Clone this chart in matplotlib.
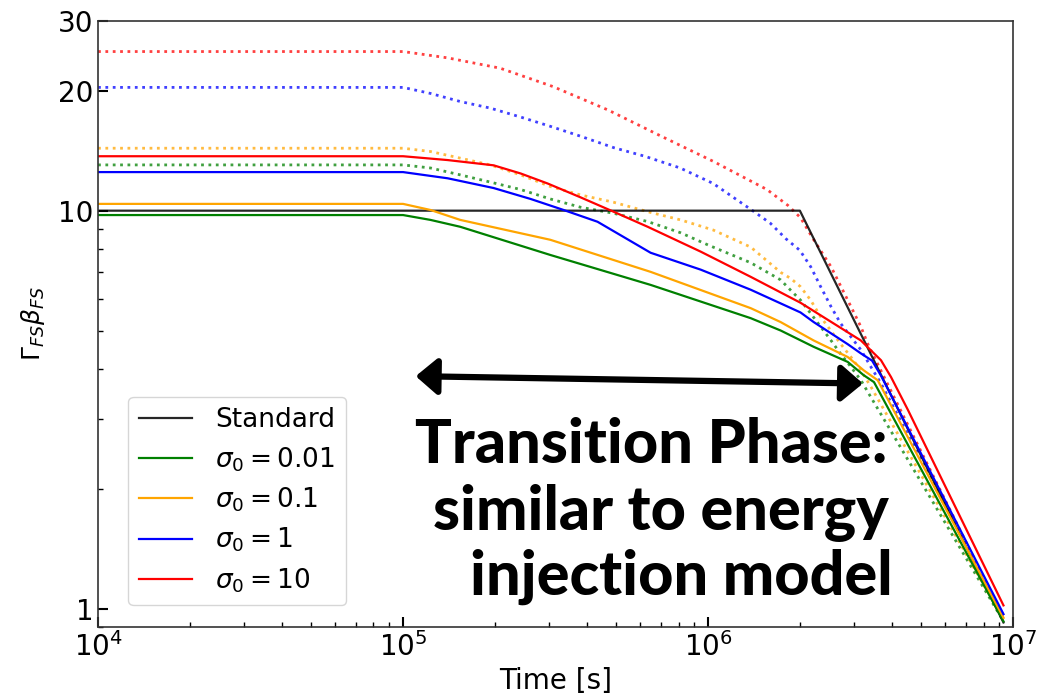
import numpy as np
import matplotlib
matplotlib.use("Agg")
import matplotlib.pyplot as plt
from matplotlib.ticker import FixedLocator, LogLocator, NullFormatter

# Lorentz factor of the forward shock vs time
t_std = [1e4, 2e6, 9.3e6]
g_std = [10.0, 10.0, 0.924]

# solid: sigma_0 runs
t_s001 = [1e4, 1e5, 1.23e5, 1.54e5, 3.04e5, 6.48e5, 1.38e6, 1.73e6, 2.22e6, 2.87e6, 3.24e6, 3.5e6, 9.3e6]
g_s001 = [9.75, 9.75, 9.48, 9.11, 7.74, 6.51, 5.37, 5.0, 4.55, 4.17, 3.86, 3.71, 0.93]

t_s01 = [1e4, 1e5, 1.23e5, 1.54e5, 3.04e5, 6.48e5, 1.38e6, 1.73e6, 2.22e6, 2.87e6, 3.24e6, 3.6e6, 9.3e6]
g_s01 = [10.4, 10.4, 10.04, 9.48, 8.45, 7.02, 5.69, 5.25, 4.72, 4.29, 3.97, 3.75, 0.95]

t_s1 = [1e4, 1e5, 1.4e5, 1.98e5, 2.62e5, 3.36e5, 4.34e5, 6.48e5, 9.46e5, 1.38e6, 2.01e6, 2.22e6, 2.87e6, 3.17e6, 3.45e6, 3.69e6, 9.3e6]
g_s1 = [12.5, 12.5, 12.06, 11.4, 10.7, 10.04, 9.38, 7.84, 7.11, 6.33, 5.55, 5.25, 4.62, 4.38, 4.2, 3.85, 0.97]

t_s10 = [1e4, 1e5, 1.4e5, 1.98e5, 2.43e5, 2.98e5, 3.82e5, 4.9e5, 6.34e5, 9.46e5, 1.38e6, 2.01e6, 2.87e6, 3.17e6, 3.5e6, 3.69e6, 3.98e6, 4.52e6, 9.3e6]
g_s10 = [13.7, 13.7, 13.4, 13.0, 12.4, 11.7, 10.8, 9.94, 9.11, 7.89, 6.82, 5.87, 4.95, 4.72, 4.38, 4.21, 3.82, 3.16, 1.02]

# dotted: companion runs
t_d001 = [1e4, 1e5, 1.23e5, 1.54e5, 1.93e5, 2.43e5, 3.04e5, 3.82e5, 4.9e5, 6.34e5, 8.13e5, 1.0e6, 1.38e6, 1.73e6, 1.87e6, 2.01e6, 2.17e6, 2.34e6, 2.53e6, 2.72e6, 2.94e6, 3.17e6, 9.3e6]
g_d001 = [13.03, 13.03, 12.8, 12.3, 11.8, 11.3, 10.7, 10.2, 9.85, 9.39, 8.8, 8.2, 7.4, 6.7, 6.3, 5.96, 5.52, 5.11, 4.72, 4.37, 4.05, 3.75, 0.93]

t_d01 = [1e4, 1e5, 1.23e5, 1.54e5, 1.93e5, 2.43e5, 3.04e5, 3.82e5, 4.9e5, 6.34e5, 8.13e5, 1.04e6, 1.38e6, 1.73e6, 1.87e6, 2.01e6, 2.17e6, 2.34e6, 2.53e6, 2.72e6, 2.94e6, 3.17e6, 3.42e6, 9.3e6]
g_d01 = [14.35, 14.35, 14.08, 13.55, 13.03, 12.3, 11.5, 10.95, 10.5, 9.94, 9.48, 8.94, 8.1, 7.0, 6.75, 6.44, 5.96, 5.41, 4.99, 4.63, 4.29, 3.97, 3.61, 0.94]

t_d1 = [1e4, 1e5, 1.23e5, 1.54e5, 1.93e5, 2.42e5, 3.03e5, 3.8e5, 4.9e5, 6.2e5, 8.1e5, 1.04e6, 1.4e6, 1.6e6, 1.8e6, 2.0e6, 2.17e6, 2.34e6, 2.53e6, 2.72e6, 2.94e6, 3.17e6, 3.42e6, 3.69e6, 9.3e6]
g_d1 = [20.4, 20.4, 19.7, 18.8, 18.1, 17.2, 16.3, 15.4, 14.4, 13.7, 12.8, 11.7, 10.0, 9.3, 8.5, 7.95, 7.23, 6.44, 5.74, 5.21, 4.82, 4.47, 4.05, 3.68, 0.96]

t_d10 = [1e4, 1e5, 1.4e5, 2.08e5, 3.1e5, 4.7e5, 7e5, 1.04e6, 1.56e6, 1.83e6, 2.01e6, 2.22e6, 2.53e6, 2.87e6, 3.17e6, 3.35e6, 9.3e6]
g_d10 = [25.1, 25.1, 24.2, 22.8, 20.5, 17.9, 15.4, 13.3, 11.3, 10.3, 9.6, 8.45, 7.23, 5.96, 5.11, 4.6, 0.95]

labels = ["Standard", r"$\sigma_0 = 0.01$", r"$\sigma_0 = 0.1$", r"$\sigma_0 = 1$", r"$\sigma_0 = 10$"]
colors = ["k", "green", "orange", "blue", "red"]

solid = [(t_std, g_std), (t_s001, g_s001), (t_s01, g_s01), (t_s1, g_s1), (t_s10, g_s10)]
dotted = [(t_d001, g_d001), (t_d01, g_d01), (t_d1, g_d1), (t_d10, g_d10)]

fig = plt.figure(figsize=(10.52, 6.95), dpi=100)
ax = fig.add_axes([0.0932, 0.0978, 0.8698, 0.8724])

for (t, g), c in zip(dotted, colors[1:]):
    ax.plot(t, g, ls=":", lw=2.0, color=c, alpha=0.75)
for (t, g), c, lab in zip(solid, colors, labels):
    ax.plot(t, g, lw=1.6, color=c, label=lab, alpha=0.85 if c == "k" else 1.0)

ax.set_xscale("log")
ax.set_yscale("log")
ax.set_xlim(1e4, 1e7)
ax.set_ylim(0.9, 30)

ax.yaxis.set_major_locator(FixedLocator([1, 10, 20, 30]))
ax.set_yticklabels(["1", "10", "20", "30"])
ax.yaxis.set_minor_locator(LogLocator(base=10, subs=np.arange(2, 10)))
ax.yaxis.set_minor_formatter(NullFormatter())

ax.tick_params(which="major", direction="in", length=7, width=1.5, labelsize=20)
ax.tick_params(which="minor", direction="in", length=3.5, width=1.0)
for sp in ax.spines.values():
    sp.set_linewidth(1.2)
    sp.set_color("#333333")

ax.set_xlabel("Time [s]", fontsize=20)
ax.set_ylabel(r"$\Gamma_{FS}\beta_{FS}$", fontsize=18, labelpad=8)

ax.legend(loc="lower left", bbox_to_anchor=(0.033, 0.036), borderaxespad=0,
          fontsize=19, labelspacing=0.45, handlelength=2.0, handletextpad=0.9)

# transition phase arrow and note
ax.annotate("", xy=(3.22e6, 3.68), xytext=(1.1e5, 3.84),
            arrowprops=dict(arrowstyle="<|-|>,head_length=0.65,head_width=0.55",
                            lw=4.5, color="k", shrinkA=0, shrinkB=0, mutation_scale=20))

note_font = dict(family=["Lato", "DejaVu Sans"], fontsize=44,
                 fontweight="black", ha="left", va="baseline", transform=ax.transAxes)
ax.text(0.3464, 0.2706, "Transition Phase:", **note_font)
ax.text(0.3661, 0.1601, "similar to energy", **note_font)
ax.text(0.4066, 0.0528, "injection model", **note_font)

fig.savefig("out.png", dpi=100)
